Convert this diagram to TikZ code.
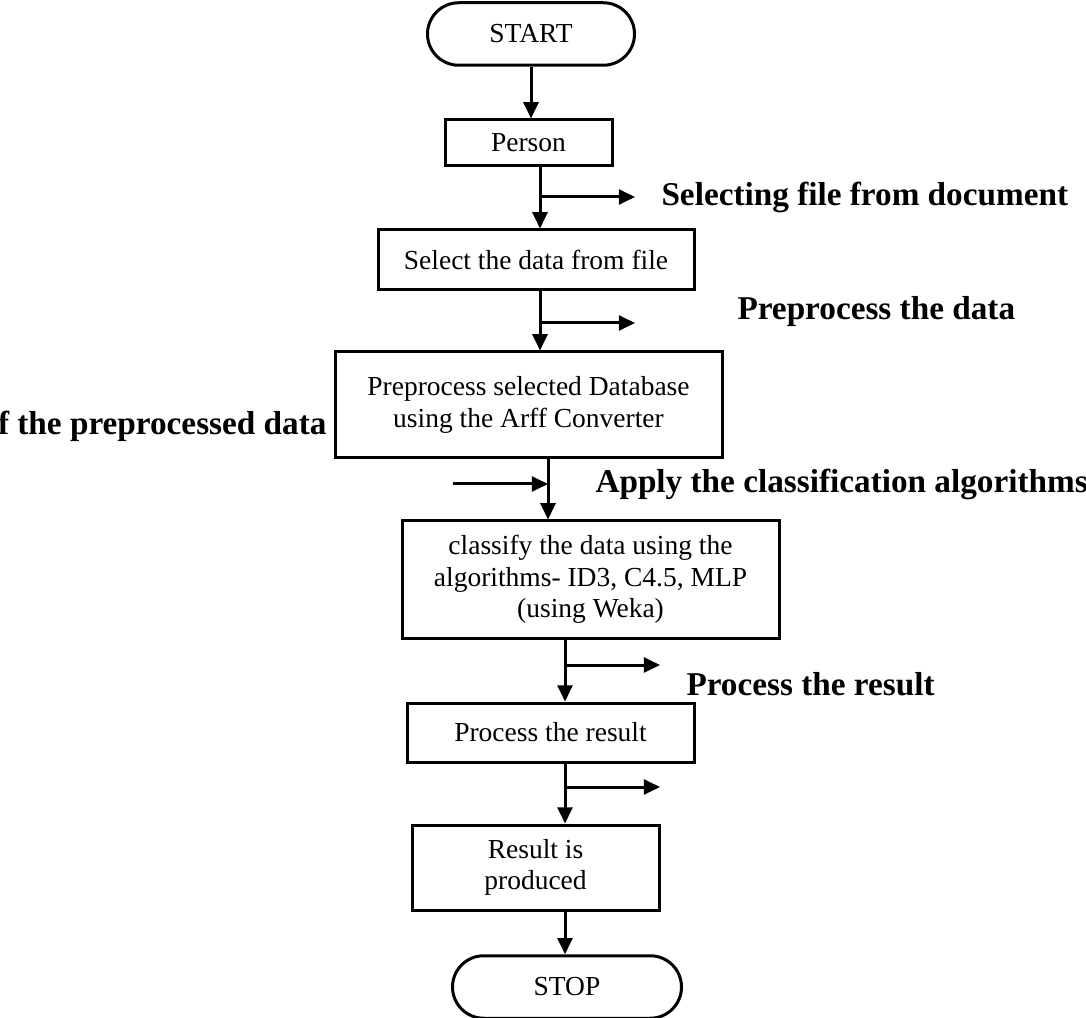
\documentclass[tikz,border=0pt]{standalone}
\usepackage{fontspec}
\setmainfont{Liberation Serif}
\usetikzlibrary{arrows.meta,positioning}

\tikzset{
  startstop/.style={draw, line width=1.2pt, rounded corners=12.5pt, minimum height=25pt, font=\fontsize{11}{12.5}\selectfont},
  procbox/.style={draw, line width=1.2pt, align=center, inner sep=0pt, font=\fontsize{11}{12.5}\selectfont},
  note/.style={font=\fontsize{13.3}{15}\selectfont\bfseries, inner sep=0pt},
  arrow/.style={line width=1.2pt, -{Triangle[length=6.5pt,width=6pt]}}
}

\begin{document}
\begin{tikzpicture}[x=0.4pt, y=-0.4pt]
    \useasboundingbox (0,0) rectangle (1086,1018);

    \node[startstop, minimum width=82.8pt] (start) at (531,34) {START};
    \node[procbox, minimum width=66.8pt, minimum height=18.4pt] (person) at (528.5,143) {Person};
    \node[procbox, minimum width=126.4pt, minimum height=24pt] (select) at (536,260) {Select the data from file};
    \node[procbox, minimum width=154.8pt, minimum height=42.4pt] (preproc) at (528.5,405) {Preprocess selected Database\\using the Arff Converter};
    \node[procbox, minimum width=150.8pt, minimum height=46.8pt] (classify) at (590.5,579.5) {classify the data using the\\algorithms- ID3, C4.5, MLP\\(using Weka)};
    \node[procbox, minimum width=114.8pt, minimum height=23.6pt] (process) at (550.5,732.5) {Process the result};
    \node[procbox, minimum width=98.8pt, minimum height=34pt] (result) at (535.5,867.5) {Result is\\produced};
    \node[startstop, minimum width=91.6pt] (stop) at (567,987) {STOP};

    % branch points on the flow line
    \coordinate (b1) at (540,197);
    \coordinate (b2) at (540,323);
    \coordinate (b3) at (548,484);
    \coordinate (b4) at (565,665);
    \coordinate (b5) at (565,787);

    \node[note, anchor=west] (lsel) at (661,197) {Selecting file from document};
    \node[note, anchor=west] (lpre) at (737,312) {Preprocess the data};
    \node[note, anchor=east] (lcls) at (327,426) {f the preprocessed data};
    \node[note, anchor=west] (lapp) at (595,484) {Apply the classification algorithms};
    \node[note, anchor=west] (lres) at (686,684) {Process the result};

    \draw[arrow] (start.south) -- (person.north -| start.south);
    \draw[arrow] (person.south -| b1) -- (select.north -| b1);
    \draw[arrow] (select.south -| b2) -- (preproc.north -| b2);
    \draw[arrow] (preproc.south -| b3) -- (classify.north -| b3);
    \draw[arrow] (classify.south -| b4) -- (process.north -| b4);
    \draw[arrow] (process.south -| b5) -- (result.north -| b5);
    \draw[arrow] (result.south -| b5) -- (stop.north -| b5);

    \draw[arrow] (b1) -- ++(95,0);
    \draw[arrow] (b2) -- ++(95,0);
    \draw[arrow] (b3) ++(-95,0) -- (b3);
    \draw[arrow] (b4) -- ++(95,0);
    \draw[arrow] (b5) -- ++(95,0);
\end{tikzpicture}
\end{document}
